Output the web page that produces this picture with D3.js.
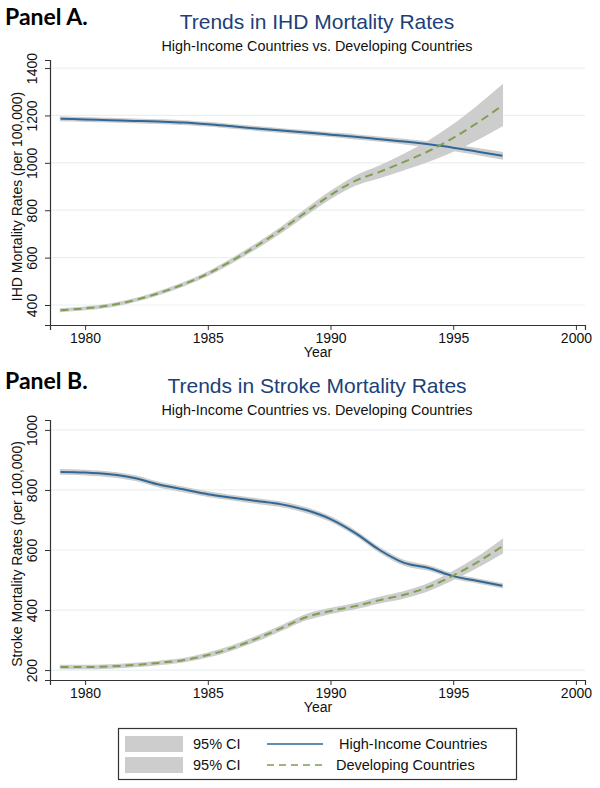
<!DOCTYPE html>
<html>
<head>
<meta charset="utf-8">
<script src="https://cdn.jsdelivr.net/npm/d3@7"></script>
<style>
  body { margin: 0; background: #fff; }
  svg { display: block; font-family: "Liberation Sans", Arial, sans-serif; }
</style>
</head>
<body>
<svg id="chart" width="600" height="788"></svg>
<script>
// years shared by both panels
const years = [1979, 1980, 1981, 1982, 1983, 1984, 1985, 1986, 1987, 1988, 1989, 1990, 1991, 1992, 1993, 1994, 1995, 1996, 1997];
const xTicks = [1980, 1985, 1990, 1995, 2000];

// Panel A: IHD mortality
const ihdHigh = [1186, 1183, 1180, 1177, 1174, 1170, 1163, 1154, 1145, 1136, 1128, 1119, 1110, 1100, 1090, 1078, 1064, 1047, 1030];
const ihdHighCI = [7, 7, 7, 7, 7, 7, 7, 7, 7, 7, 7, 7, 8, 8, 9, 10, 11, 12, 13];
const ihdDev = [378, 386, 398, 420, 450, 487, 532, 588, 650, 718, 792, 864, 924, 962, 1004, 1050, 1105, 1170, 1242];
const ihdDevCI = [5, 5, 5, 5, 6, 6, 7, 8, 9, 10, 12, 14, 18, 24, 32, 42, 55, 70, 85];
const ihdTicks = [400, 600, 800, 1000, 1200, 1400];

// Panel B: stroke mortality
const strokeHigh = [860, 858, 852, 840, 818, 802, 786, 774, 763, 752, 733, 703, 657, 600, 557, 540, 513, 497, 481];
const strokeHighCI = [7, 7, 7, 7, 7, 7, 7, 7, 7, 7, 7, 7, 7, 7, 7, 7, 6, 6, 6];
const strokeDev = [210, 210, 212, 217, 224, 233, 250, 274, 305, 340, 376, 397, 413, 433, 451, 477, 515, 560, 612];
const strokeDevCI = [5, 5, 5, 5, 5, 5, 6, 6, 7, 7, 8, 8, 8, 9, 10, 11, 13, 16, 22];
const strokeTicks = [200, 400, 600, 800, 1000];

const svg = d3.select('#chart');
const blue = '#2f6896', green = '#7f9f50', ciFill = '#cdcdcd', navy = '#203f78';

const x = d3.scaleLinear().domain([1978.57, 2000.37]).range([50, 585]);

function drawPanel(opt) {
    const g = svg.append('g');
    const y = d3.scaleLinear().domain(opt.yDomain).range(opt.yRange);

    g.append('text').attr('x', 5).attr('y', opt.top + 25)
        .style('font-family', 'Lato, "Open Sans", sans-serif').style('font-weight', 'bold')
        .style('font-size', '23px').attr('fill', '#000').text(opt.panel);
    g.append('text').attr('x', 317).attr('y', opt.top + 29).attr('text-anchor', 'middle')
        .style('font-size', '21px').attr('fill', navy).text(opt.title);
    g.append('text').attr('x', 317).attr('y', opt.top + 51).attr('text-anchor', 'middle')
        .style('font-size', '14.4px').attr('fill', '#111').text('High-Income Countries vs. Developing Countries');

    // gridlines
    g.append('g').selectAll('line').data(opt.ticks).enter().append('line')
        .attr('x1', x.range()[0]).attr('x2', x.range()[1])
        .attr('y1', d => y(d)).attr('y2', d => y(d))
        .attr('stroke', '#e8f1f2').attr('stroke-width', 1.2);

    const bottom = opt.yRange[0];

    // y axis
    const ya = g.append('g').attr('transform', `translate(${x.range()[0]},0)`)
        .call(d3.axisLeft(y).tickValues(opt.ticks).tickSize(5).tickFormat(d3.format('d')));
    ya.select('.domain').attr('stroke', '#333').attr('stroke-width', 1.2);
    ya.selectAll('.tick line').attr('stroke', '#333');
    ya.selectAll('.tick text')
        .attr('x', 0).attr('dy', 0).attr('text-anchor', 'middle')
        .attr('transform', 'translate(-13,0) rotate(-90)')
        .style('font-size', '14px').attr('fill', '#111');

    // x axis
    const xa = g.append('g').attr('transform', `translate(0,${bottom})`)
        .call(d3.axisBottom(x).tickValues(xTicks).tickSize(5).tickFormat(d3.format('d')));
    xa.select('.domain').attr('stroke', '#333').attr('stroke-width', 1.2);
    xa.selectAll('.tick line').attr('stroke', '#333');
    xa.selectAll('.tick text').attr('y', 8).style('font-size', '14px').attr('fill', '#111');

    g.append('text').attr('x', 318).attr('y', bottom + 32).attr('text-anchor', 'middle')
        .style('font-size', '14px').attr('fill', '#111').text('Year');
    g.append('text').attr('transform', `translate(22,${(opt.yRange[0] + opt.yRange[1]) / 2 + 4}) rotate(-90)`)
        .attr('text-anchor', 'middle').style('font-size', '14px').attr('fill', '#111').text(opt.yLabel);

    const area = d3.area().curve(d3.curveMonotoneX).x((d, i) => x(years[i]));
    const line = d3.line().curve(d3.curveMonotoneX).x((d, i) => x(years[i])).y(d => y(d));

    [[opt.high, opt.highCI], [opt.dev, opt.devCI]].forEach(([v, ci]) => {
        g.append('path').datum(v)
            .attr('d', area.y0((d, i) => y(d - ci[i])).y1((d, i) => y(d + ci[i])))
            .attr('fill', ciFill).attr('stroke', ciFill).attr('stroke-width', 1.5);
    });
    g.append('path').datum(opt.high).attr('d', line)
        .attr('fill', 'none').attr('stroke', blue).attr('stroke-width', 2);
    g.append('path').datum(opt.dev).attr('d', line)
        .attr('fill', 'none').attr('stroke', green).attr('stroke-width', 2)
        .attr('stroke-dasharray', '8,5');
}

drawPanel({
    panel: 'Panel A.', title: 'Trends in IHD Mortality Rates', top: 0,
    yLabel: 'IHD Mortality Rates (per 100,000)',
    yDomain: [315.6, 1434], yRange: [325, 60], ticks: ihdTicks,
    high: ihdHigh, highCI: ihdHighCI, dev: ihdDev, devCI: ihdDevCI
});
drawPanel({
    panel: 'Panel B.', title: 'Trends in Stroke Mortality Rates', top: 364,
    yLabel: 'Stroke Mortality Rates (per 100,000)',
    yDomain: [167, 1033], yRange: [680, 420], ticks: strokeTicks,
    high: strokeHigh, highCI: strokeHighCI, dev: strokeDev, devCI: strokeDevCI
});

// legend
const lg = svg.append('g');
lg.append('rect').attr('x', 118.5).attr('y', 728.5).attr('width', 398).attr('height', 51)
    .attr('fill', '#fff').attr('stroke', '#333').attr('stroke-width', 1.2);
const legendRows = [
    { label: 'High-Income Countries', color: blue, dash: null },
    { label: 'Developing Countries', color: green, dash: '7,5' }
];
legendRows.forEach((r, i) => {
    const cy = 744 + i * 21;
    lg.append('rect').attr('x', 125).attr('y', cy - 8).attr('width', 58).attr('height', 16).attr('fill', ciFill);
    lg.append('text').attr('x', 193).attr('y', cy + 5).style('font-size', '14.5px').attr('fill', '#111').text('95% CI');
    lg.append('line').attr('x1', 267).attr('x2', 323).attr('y1', cy).attr('y2', cy)
        .attr('stroke', r.color).attr('stroke-width', 1.5).attr('stroke-dasharray', r.dash);
    lg.append('text').attr('x', i === 0 ? 339 : 336).attr('y', cy + 5).style('font-size', '14.5px').attr('fill', '#111').text(r.label);
});
</script>
</body>
</html>
